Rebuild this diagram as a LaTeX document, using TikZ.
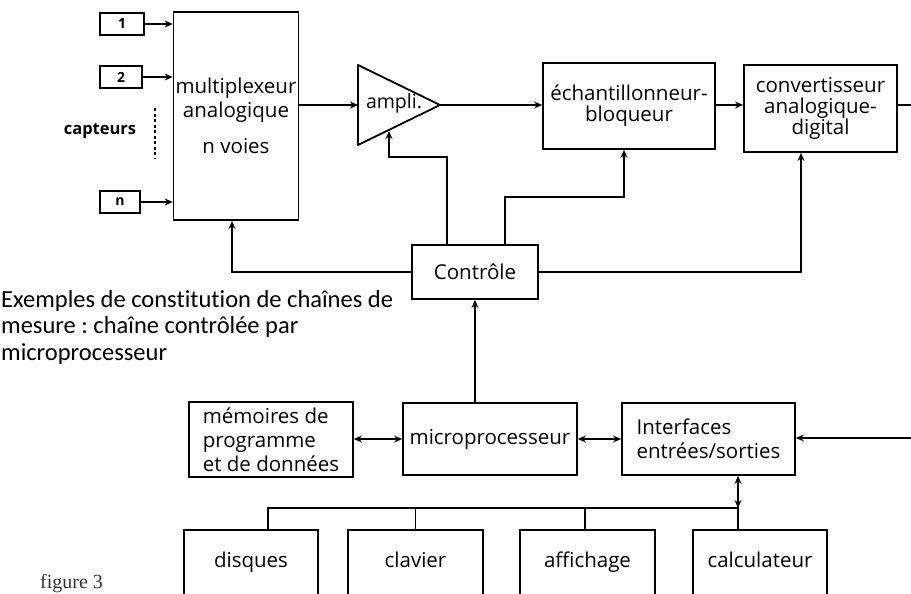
\documentclass[tikz,border=0pt]{standalone}
\usepackage{fontspec}
\setmainfont{Open Sans}
\newfontfamily\capfont[Ligatures=NoCommon]{Carlito}
\newfontfamily\figfont{Liberation Serif}
\usetikzlibrary{arrows.meta,calc}
\frenchspacing
\begin{document}
\begin{tikzpicture}[x=1pt,y=-1pt,
  box/.style={draw, line width=1.8pt, inner sep=2pt, align=center,
              font=\fontsize{20.5}{21}\selectfont},
  wire/.style={line width=1.6pt},
  arr/.style={wire,-{Stealth[length=8pt,width=7pt]}},
  darr/.style={wire,{Stealth[length=8pt,width=7pt]}-{Stealth[length=8pt,width=7pt]}},
  sens/.style={box, minimum height=22pt, font=\fontsize{14}{15}\selectfont\bfseries},
  periph/.style={box, minimum height=66pt, text height=14pt, text depth=5pt}]
\useasboundingbox (0,0) rectangle (911,594);
\clip (0,0) rectangle (911,594);
% sensors
\node[sens, minimum width=44pt] (s1) at (122,24) {1};
\node[sens, minimum width=42pt] (s2) at (121,77) {2};
\node[sens, minimum width=40pt] (sn) at (120,202) {n};
\node[font=\fontsize{16.5}{18}\selectfont\bfseries] (capt) at (100,131) {capteurs};
\coordinate (dtop) at (155,108);
\coordinate (dbot) at (155,158);
\draw[line width=1.6pt, dash pattern=on 3pt off 2.5pt] (dtop) -- (dbot);
% multiplexer
\node[box, minimum width=124pt, minimum height=208pt, font=\fontsize{20.5}{24}\selectfont] (mux) at (236,116)
  {multiplexeur\\analogique\\[12pt]n voies};
% amplifier
\coordinate (ampin) at (358,105);
\coordinate (ampout) at (440,105);
\coordinate (ampbot) at (389,131);
\draw[line width=1.8pt, line join=round] (358,65) -- (ampout) -- (358,145) -- cycle;
\node[font=\fontsize{19.5}{21}\selectfont, inner sep=0pt] (amp) at (394,103) {ampli.};
% sampler, converter
\node[box, minimum width=172pt, minimum height=86pt] (ech) at (629,106) {échantillonneur-\\bloqueur};
\node[box, minimum width=153pt, minimum height=87pt] (conv) at (820.5,108.5) {convertisseur\\analogique-\\digital};
\coordinate (r1) at (911,105);
% control
\node[box, minimum width=126pt, minimum height=54pt] (ctrl) at (475,272) {Contrôle};
% caption
\node[anchor=north west, align=left, inner sep=0pt,
      font=\capfont\fontsize{24.5}{26.5}\selectfont] (cap) at (1,290)
  {Exemples de constitution de chaînes de\\mesure : chaîne contrôlée par\\microprocesseur};
% lower row
\node[box, minimum width=164pt, minimum height=75pt, align=left, font=\fontsize{20.5}{24}\selectfont] (memo) at (271,439.5) {mémoires de\\programme\\et de données};
\node[box, minimum width=174pt, minimum height=72pt] (micro) at (490,439) {microprocesseur};
\node[box, minimum width=173pt, minimum height=72pt, align=left, font=\fontsize{20.5}{24}\selectfont] (iface) at (708.5,439) {Interfaces\\entrées/sorties};
\coordinate (r2) at (911,438);
% peripherals
\node[periph, minimum width=134pt] (disq) at (251,563) {disques};
\node[periph, minimum width=135pt] (clav) at (415.5,563) {clavier};
\node[periph, minimum width=135pt] (aff) at (587.5,563) {affichage};
\node[periph, minimum width=134pt] (calc) at (760,563) {calculateur};
\coordinate (bus) at (738,508);
% figure label
\node[anchor=base west, inner sep=0pt, text=black!80, font=\figfont\fontsize{20}{24}\selectfont] (fig) at (40,588) {figure 3};
% connectors
\draw[arr] (s1.east) -- (s1.east -| mux.west);
\draw[arr] (s2.east) -- (s2.east -| mux.west);
\draw[arr] (sn.east) -- (sn.east -| mux.west);
\draw[arr] (ampin -| mux.east) -- (ampin);
\draw[arr] (ampout) -- (ampout -| ech.west);
\draw[arr] (ech.east |- 0,105) -- (conv.west |- 0,105);
\draw[wire] (conv.east |- r1) -- (r1);
\draw[arr] (ctrl.west) -| ([xshift=-4pt]mux.south);
\coordinate (c1) at (447,157);
\draw[arr] (c1 |- ctrl.north) -- (c1) -| (ampbot);
\coordinate (c2) at (505,197);
\draw[arr] (c2 |- ctrl.north) -- (c2) -| ([xshift=-5pt]ech.south);
\draw[arr] (ctrl.east) -| ([xshift=-19.5pt]conv.south);
\draw[arr] (ctrl.south |- micro.north) -- (ctrl.south);
\draw[darr] (memo.east |- micro.west) -- (micro.west);
\draw[darr] (micro.east) -- (iface.west);
\draw[arr] (r2) -- (r2 -| iface.east);
\draw[darr] (bus |- iface.south) -- (bus);
\draw[wire] ([xshift=17pt]disq.north) |- (bus) -- (bus |- calc.north);
\draw[wire] (clav.north) -- (clav.north |- bus);
\draw[wire] ([xshift=-2.5pt]aff.north) -- ([xshift=-2.5pt]aff.north |- bus);
\end{tikzpicture}
\end{document}
